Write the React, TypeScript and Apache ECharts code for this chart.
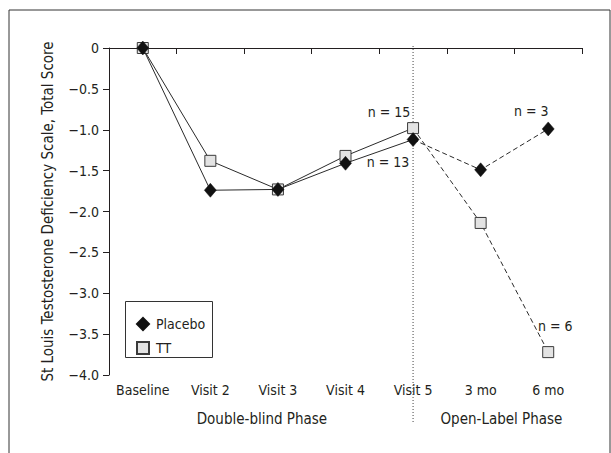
import React, { useEffect, useRef } from "react";
import * as echarts from "echarts";

const categories = ["Baseline", "Visit 2", "Visit 3", "Visit 4", "Visit 5", "3 mo", "6 mo"];
const placebo = [0, -1.74, -1.73, -1.41, -1.12, -1.49, -0.99];
const tt = [0, -1.38, -1.73, -1.32, -0.98, -2.14, -3.72];
const yTicks = [0, -0.5, -1.0, -1.5, -2.0, -2.5, -3.0, -3.5, -4.0];
const splitIndex = 4; // Visit 5: end of double-blind phase
const nLabels = [
  { series: "TT", index: 4, text: "n = 15", offset: [-24, -16] },
  { series: "Placebo", index: 4, text: "n = 13", offset: [-25, 22] },
  { series: "Placebo", index: 6, text: "n = 3", offset: [-17, -18] },
  { series: "TT", index: 6, text: "n = 6", offset: [7, -26] },
];

const FONT = "'Liberation Sans Narrow', 'DejaVu Sans Condensed', 'Roboto', sans-serif";
const INK = "#231f20";
const FS = 14;

function fmt(v: number) {
  if (v === 0) return "0";
  return "\u2212" + Math.abs(v).toFixed(1);
}

function buildData(name: string, values: number[], dashed: boolean) {
  return values.map((v, i) => {
    if (dashed ? i < splitIndex : i > splitIndex) return "-";
    const item: any = { value: v };
    if (dashed && i === splitIndex) item.symbol = "none";
    const lab = nLabels.find((n) => n.series === name && n.index === i);
    if (lab && (dashed ? i > splitIndex : true)) {
      item.label = {
        show: true,
        formatter: lab.text,
        position: "inside",
        offset: lab.offset,
        color: INK,
        fontSize: FS,
        fontFamily: FONT,
      };
    }
    return item;
  });
}

export default function App() {
  const ref = useRef<HTMLDivElement>(null);
  useEffect(() => {
    if (!ref.current) return;
    const chart = echarts.init(ref.current, undefined, { renderer: "svg" });
    const ttStyle = { color: "#e3e3e3", borderColor: "#3a3a3a", borderWidth: 1 };
    const plStyle = { color: "#111111", borderColor: "#111111", borderWidth: 0.5 };
    const mk = (name: string, values: number[], dashed: boolean, symbol: string, size: any, itemStyle: any, z: number) => ({
      type: "line",
      name,
      data: buildData(name, values, dashed),
      symbol,
      symbolSize: size,
      showAllSymbol: true,
      connectNulls: false,
      z,
      itemStyle,
      lineStyle: { color: "#2a2a2a", width: 1, type: dashed ? [5, 3] : "solid" },
      emphasis: { disabled: true },
    });
    const option: any = {
      animation: false,
      textStyle: { fontFamily: FONT },
      grid: { left: 109, right: 29, top: 48, bottom: 78, containLabel: false },
      legend: {
        data: [
          { name: "Placebo", icon: "diamond" },
          { name: "TT", icon: "rect" },
        ],
        orient: "vertical",
        left: 131,
        top: 312,
        itemWidth: 12,
        itemHeight: 12,
        itemGap: 10,
        selectedMode: false,
        textStyle: { fontSize: FS, color: INK, fontFamily: FONT, padding: [0, 0, 0, 2] },
      },
      xAxis: {
        type: "category",
        data: categories,
        boundaryGap: true,
        axisLine: { lineStyle: { color: INK, width: 1 } },
        axisTick: { show: true, length: 6, inside: false, lineStyle: { color: INK } },
        axisLabel: { color: INK, fontSize: FS, fontFamily: FONT, margin: 8, interval: 0 },
        splitLine: { show: false },
      },
      yAxis: {
        type: "value",
        min: -4,
        max: 0,
        interval: 0.5,
        name: "St Louis Testosterone Deficiency Scale, Total Score",
        nameLocation: "middle",
        nameGap: 54,
        nameTextStyle: { color: INK, fontSize: 15, fontFamily: FONT },
        axisLine: { show: true, lineStyle: { color: INK, width: 1 } },
        axisTick: { show: true, length: 6, inside: false, lineStyle: { color: INK } },
        axisLabel: {
          color: INK,
          fontSize: FS,
          fontFamily: FONT,
          margin: 10,
          formatter: (v: number) => (yTicks.some((t) => Math.abs(t - v) < 1e-9) ? fmt(v) : ""),
        },
        splitLine: { show: false },
      },
      series: [
        mk("TT", tt, false, "rect", 11, ttStyle, 2),
        mk("TT", tt, true, "rect", 11, ttStyle, 2),
        mk("Placebo", placebo, false, "diamond", [12, 14], plStyle, 3),
        mk("Placebo", placebo, true, "diamond", [12, 14], plStyle, 3),
      ],
    };
    chart.setOption(option);

    const xSplit = chart.convertToPixel({ xAxisIndex: 0 }, categories[splitIndex]) as number;
    const yTop = chart.convertToPixel({ yAxisIndex: 0 }, 0) as number;
    const yBottom = chart.convertToPixel({ yAxisIndex: 0 }, -4) as number;
    const x0 = chart.convertToPixel({ xAxisIndex: 0 }, categories[0]) as number;
    const xLast = chart.convertToPixel({ xAxisIndex: 0 }, categories[categories.length - 1]) as number;
    const step = (xLast - x0) / (categories.length - 1);
    const dbCenter = (x0 - step / 2 + xSplit + step / 2) / 2 - 16;
    const olCenter = (xSplit + step / 2 + xLast + step / 2) / 2 - 13;

    chart.setOption({
      graphic: [
        {
          type: "rect",
          shape: { x: 9, y: 10, width: 601, height: 470 },
          style: { fill: "none", stroke: "#333", lineWidth: 1 },
          silent: true,
          z: 0,
        },
        {
          type: "rect",
          shape: { x: 125.5, y: 301.5, width: 87, height: 56 },
          style: { fill: "none", stroke: "#333", lineWidth: 1 },
          silent: true,
        },
        {
          type: "line",
          shape: { x1: xSplit, y1: yTop - 2, x2: xSplit, y2: yBottom + 48 },
          style: { stroke: "#444", lineWidth: 1, lineDash: [1, 2] },
          silent: true,
          z: 1,
        },
        {
          type: "text",
          x: dbCenter,
          y: yBottom + 44,
          style: {
            text: "Double-blind Phase",
            fill: INK,
            fontSize: 15,
            fontFamily: FONT,
            align: "center",
            verticalAlign: "middle",
          },
          silent: true,
        },
        {
          type: "text",
          x: olCenter,
          y: yBottom + 44,
          style: {
            text: "Open-Label Phase",
            fill: INK,
            fontSize: 15,
            fontFamily: FONT,
            align: "center",
            verticalAlign: "middle",
          },
          silent: true,
        },
      ],
    });

    return () => chart.dispose();
  }, []);
  return (
    <div
      ref={ref}
      style={{ position: "absolute", left: 0, top: 0, width: 611, height: 453, background: "#fff" }}
    />
  );
}
